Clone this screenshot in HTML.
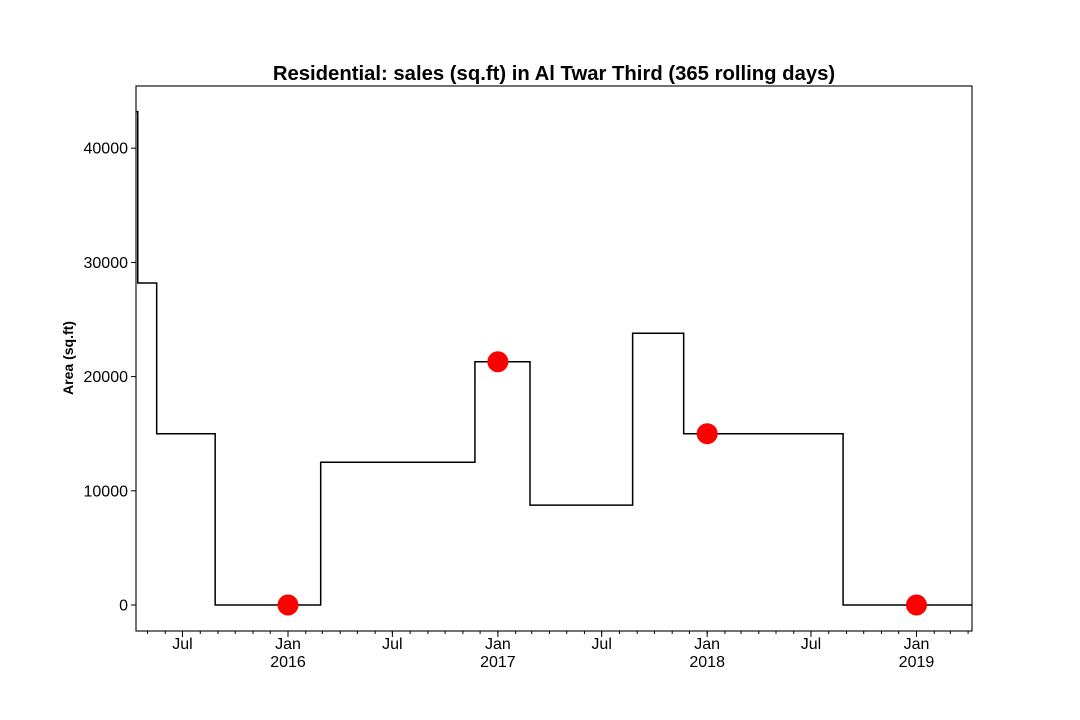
<!DOCTYPE html>
<html><head><meta charset="utf-8"><style>
body{margin:0;background:#fff;}
svg{display:block;font-family:"Liberation Sans","DejaVu Sans",sans-serif;}
</style></head><body>
<svg id="chart" width="1080" height="720">
<text x="554" y="80" text-anchor="middle" font-size="20.3" font-weight="bold">Residential: sales (sq.ft) in Al Twar Third (365 rolling days)</text>
<text transform="translate(73,358) rotate(-90)" text-anchor="middle" font-size="14" font-weight="bold">Area (sq.ft)</text>
<g id="axes"></g><g id="marks"></g>
<rect x="136" y="86" width="836" height="545" fill="none" stroke="#000" stroke-width="1.1"/>
</svg>
<script>
const stepDates = ["2015-04-11","2015-04-14","2015-05-17","2015-08-27","2016-02-27","2016-11-22","2017-02-26","2017-08-24","2017-11-21","2018-08-26"];
const stepValues = [43200,28200,15000,0,12500,21300,8750,23800,15000,0];
const endDate = "2019-04-08";
const markerDates = ["2016-01-01","2017-01-01","2018-01-01","2019-01-01"];
const markerValues = [0,21300,15000,0];
const yTicks = [0,10000,20000,30000,40000];
const xMajorTicks = ["2015-07-01","2016-01-01","2016-07-01","2017-01-01","2017-07-01","2018-01-01","2018-07-01","2019-01-01"];

const NS="http://www.w3.org/2000/svg";
const t0=Date.parse("2016-01-01"), pxPerDay=209.3/365;
function xs(d){return 288+(Date.parse(d)-t0)/86400000*pxPerDay;}
function ys(v){return 605-v*114.2/10000;}
const axes=document.getElementById('axes'), marks=document.getElementById('marks');
function mk(tag,attrs,parent){const e=document.createElementNS(NS,tag);for(const k in attrs)e.setAttribute(k,attrs[k]);parent.appendChild(e);return e;}

yTicks.forEach(v=>{
  const y=ys(v);
  const l=mk('line',{x1:131,x2:136,y1:y,y2:y,stroke:'#000'},axes);
  
  
  const t=mk('text',{x:128,y:y+5.5,'text-anchor':'end','font-size':16},axes);
  t.textContent=v;
  
  
});
for(let yr=2015;yr<=2019;yr++)for(let m=0;m<12;m++){
  const d=yr+'-'+String(m+1).padStart(2,'0')+'-01';
  const x=xs(d); if(x<136||x>972)continue;
  const l=mk('line',{x1:x,x2:x,y1:631,y2:634,stroke:'#000'},axes);
  
  
}
xMajorTicks.forEach(d=>{
  const x=xs(d);
  const l=mk('line',{x1:x,x2:x,y1:631,y2:637,stroke:'#000'},axes);
  
  
  const isJan=d.slice(5,7)==='01';
  const t=mk('text',{x:x,y:649,'text-anchor':'middle','font-size':16},axes);
  t.textContent=isJan?'Jan':'Jul';
  
  
  if(isJan){
    const t2=mk('text',{x:x,y:667,'text-anchor':'middle','font-size':16},axes);
    t2.textContent=d.slice(0,4);
    
    
  }
});
let p='';
stepDates.forEach((d,i)=>{
  const x=xs(d), y=ys(stepValues[i]);
  p+= (i===0?'M':'L')+x+','+y;
  const xn=xs(i<stepDates.length-1?stepDates[i+1]:endDate);
  p+='L'+xn+','+y;
});
const path=mk('path',{d:p,fill:'none',stroke:'#000','stroke-width':1.5},marks);


markerDates.forEach((d,i)=>{
  const c=mk('circle',{cx:xs(d),cy:ys(markerValues[i]),r:10.5,fill:'#ff0000'},marks);
  
  
});
</script>
</body></html>
